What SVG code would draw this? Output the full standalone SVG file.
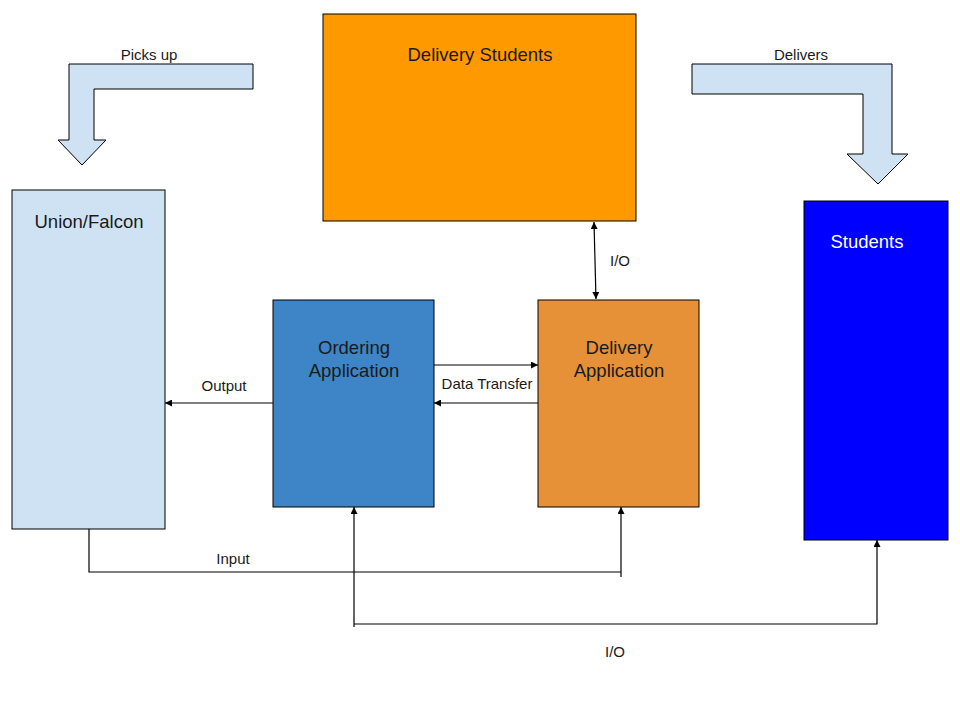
<svg xmlns="http://www.w3.org/2000/svg" width="960" height="720" viewBox="0 0 960 720">
<style>
.box{stroke:#000;stroke-width:1}
.lbl{font-family:"Liberation Sans",Arial,sans-serif;font-size:18.5px;fill:#1a1a1a;text-anchor:middle}
.sm{font-family:"Liberation Sans",Arial,sans-serif;font-size:15px;fill:#1a1a1a;text-anchor:middle}
.ln{fill:none;stroke:#000;stroke-width:1.2}
.bent{fill:#cfe2f3;stroke:#000;stroke-width:1}
</style>
<defs>
<marker id="ah" viewBox="0 0 10 10" refX="10" refY="5" markerWidth="7" markerHeight="7" markerUnits="userSpaceOnUse" orient="auto-start-reverse">
<path d="M0,0 L10,5 L0,10 z" fill="#000"/>
</marker>
</defs>
<rect width="960" height="720" fill="#fff"/>
<g id="pickup-arrow">
<path class="bent" d="M69,64 L253,64 L253,89 L94,89 L94,140 L106,140 L82,165 L58,140 L69,140 Z"/>
<text class="sm" x="149" y="60">Picks up</text>
</g>
<g id="delivers-arrow">
<path class="bent" d="M692,64 L892,64 L892,154 L908,154 L878,184 L847,154 L863,154 L863,94 L692,94 Z"/>
<text class="sm" x="801" y="60">Delivers</text>
</g>
<g id="delivery-students">
<rect class="box" x="323" y="14" width="313" height="207" fill="#ff9900"/>
<text class="lbl" x="480" y="61">Delivery Students</text>
</g>
<g id="union-falcon">
<rect class="box" x="12" y="190" width="153" height="339" fill="#cfe2f3"/>
<text class="lbl" x="89" y="228">Union/Falcon</text>
</g>
<g id="students">
<rect class="box" x="804" y="201" width="144" height="339" fill="#0000ff"/>
<text class="lbl" x="867" y="248" style="fill:#fff">Students</text>
</g>
<g id="ordering-app">
<rect class="box" x="273" y="300" width="161" height="207" fill="#3d85c6"/>
<text class="lbl" x="354" y="354">Ordering</text>
<text class="lbl" x="354" y="377">Application</text>
</g>
<g id="delivery-app">
<rect class="box" x="538" y="300" width="161" height="207" fill="#e69138"/>
<text class="lbl" x="619" y="354">Delivery</text>
<text class="lbl" x="619" y="377">Application</text>
</g>
<g id="connectors">
<line class="ln" x1="594" y1="222" x2="596" y2="299" marker-start="url(#ah)" marker-end="url(#ah)"/>
<text class="sm" x="620" y="266">I/O</text>
<line class="ln" x1="434" y1="365" x2="538" y2="365" marker-end="url(#ah)"/>
<line class="ln" x1="538" y1="403" x2="434" y2="403" marker-end="url(#ah)"/>
<text class="sm" x="487" y="389">Data Transfer</text>
<line class="ln" x1="273" y1="403" x2="165" y2="403" marker-end="url(#ah)"/>
<text class="sm" x="224" y="391">Output</text>
<path class="ln" d="M89,529 L89,572 L621,572"/>
<line class="ln" x1="621" y1="577" x2="621" y2="507" marker-end="url(#ah)"/>
<text class="sm" x="233" y="564">Input</text>
<path class="ln" d="M354,624 L877,624 L877,540" marker-end="url(#ah)"/>
<line class="ln" x1="354" y1="627" x2="354" y2="507" marker-end="url(#ah)"/>
<text class="sm" x="615" y="657">I/O</text>
</g>
</svg>
